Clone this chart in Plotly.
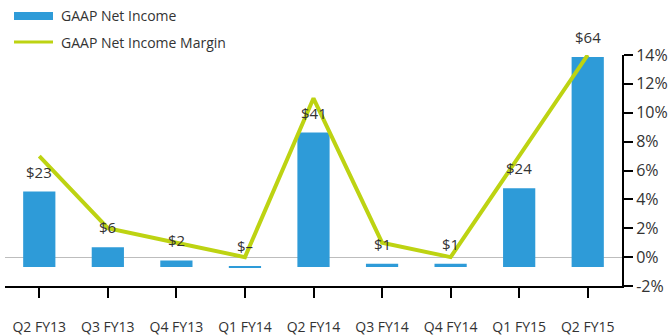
import plotly.graph_objects as go

# Quarterly GAAP net income ($M) and GAAP net income margin (%)
quarters = ["Q2 FY13", "Q3 FY13", "Q4 FY13", "Q1 FY14", "Q2 FY14",
            "Q3 FY14", "Q4 FY14", "Q1 FY15", "Q2 FY15"]
net_income = [23, 6, 2, 0.3, 41, 1, 1, 24, 64]
income_labels = ["$23", "$6", "$2", "$–", "$41", "$1", "$1", "$24", "$64"]
net_margin = [7, 2, 1, 0, 11, 1, 0, 7, 14]
margin_ticks = [-2, 0, 2, 4, 6, 8, 10, 12, 14]

BAR_COLOR = "#2E9BD8"
LINE_COLOR = "#BDD312"
TEXT_COLOR = "#333333"
FONT = "Open Sans"

fig = go.Figure()

fig.add_trace(go.Bar(
    x=quarters, y=net_income, name="GAAP Net Income",
    marker=dict(color=BAR_COLOR, line=dict(width=0)),
    width=0.47, yaxis="y",
))

fig.add_trace(go.Scatter(
    x=quarters, y=net_margin, name="GAAP Net Income Margin",
    mode="lines", line=dict(color=LINE_COLOR, width=4),
    yaxis="y2",
))

# Dollar labels above each bar
annotations = []
for q, v, t in zip(quarters, net_income, income_labels):
    annotations.append(dict(
        x=q, y=v, xref="x", yref="y", text=t, showarrow=False,
        yanchor="bottom", yshift=8,
        font=dict(family=FONT, size=15, color=TEXT_COLOR),
    ))

# Legend drawn at the top left
legend_items = [
    ("GAAP Net Income", 1.173),
    ("GAAP Net Income Margin", 1.056),
]
for text, yy in legend_items:
    annotations.append(dict(
        x=0.0875, y=yy, xref="paper", yref="paper", text=text,
        showarrow=False, xanchor="left", yanchor="middle",
        font=dict(family=FONT, size=14, color=TEXT_COLOR),
    ))

shapes = [
    dict(type="rect", xref="paper", yref="paper",
         x0=0.0146, x1=0.0778, y0=1.1515, y1=1.186,
         fillcolor=BAR_COLOR, line=dict(width=0)),
    dict(type="line", xref="paper", yref="paper",
         x0=0.0146, x1=0.0778, y0=1.056, y1=1.056,
         line=dict(color=LINE_COLOR, width=3)),
]

fig.update_layout(
    width=671, height=336,
    margin=dict(l=5, r=49, t=55, b=50),
    paper_bgcolor="white", plot_bgcolor="white",
    showlegend=False,
    bargap=0.53,
    font=dict(family=FONT, color=TEXT_COLOR),
    annotations=annotations,
    shapes=shapes,
    xaxis=dict(
        showline=True, linecolor="black", linewidth=2,
        ticks="outside", ticklen=10, tickcolor="black", tickwidth=1.5,
        tickfont=dict(family=FONT, size=14, color=TEXT_COLOR),
        ticklabelstandoff=17, automargin=False,
        showgrid=False, zeroline=False,
    ),
    yaxis=dict(
        range=[-5.79, 64.63], visible=False,
        showgrid=False, zeroline=False,
    ),
    yaxis2=dict(
        overlaying="y", side="right", range=[-2, 14],
        tickvals=margin_ticks,
        ticktext=[f"{t}%" for t in margin_ticks],
        showline=True, linecolor="black", linewidth=2,
        ticks="outside", ticklen=9, tickcolor="black", tickwidth=1.5,
        tickfont=dict(family=FONT, size=16, color=TEXT_COLOR),
        automargin=False,
        showgrid=False,
        zeroline=True, zerolinecolor="#BDBDBD", zerolinewidth=1,
    ),
)

fig.write_html("out.html")
